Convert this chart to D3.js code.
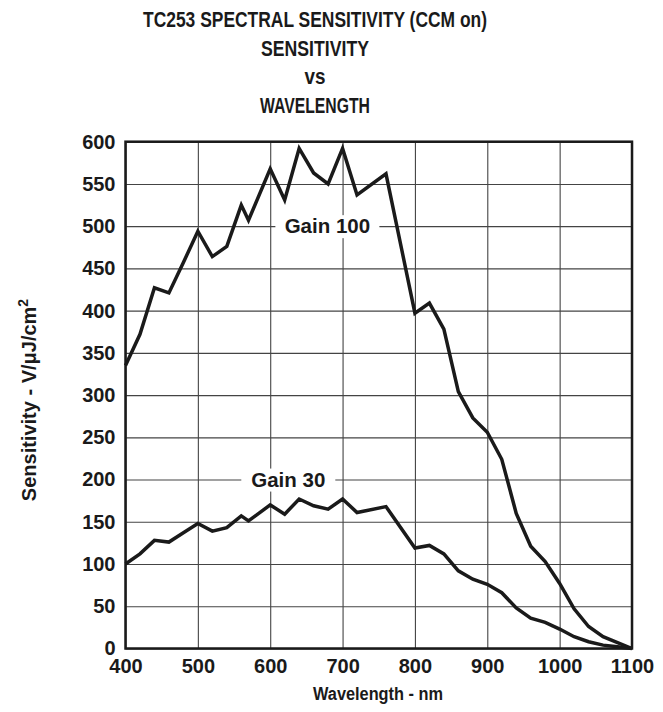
<!DOCTYPE html>
<html>
<head>
<meta charset="utf-8">
<script src="https://cdn.jsdelivr.net/npm/d3@7"></script>
<style>
  body { margin: 0; background: #fff; }
  text { font-family: "Liberation Sans", Arial, sans-serif; font-weight: bold; fill: #1a1a1a; }
</style>
</head>
<body>
<script>
// wavelength (nm) for each reading
var wavelengths = [400, 420, 440, 460, 480, 500, 520, 540, 560, 570, 600, 620, 640, 660, 680, 700, 720, 760,
  800, 820, 840, 860, 880, 900, 920, 940, 960, 980, 1000, 1020, 1040, 1060, 1080, 1100];
// sensitivity V/uJ/cm2
var gain100 = [335, 372, 427, 421, 457, 494, 464, 476, 525, 507, 568, 531, 592, 563, 550, 592, 537, 562,
  397, 409, 378, 304, 273, 256, 224, 160, 121, 103, 77, 47, 26, 14, 7, 0];
var gain30 = [100, 112, 128, 126, 137, 148, 139, 143, 157, 151, 170, 159, 177, 169, 165, 177, 161, 168,
  119, 122, 112, 92, 82, 76, 66, 48, 36, 31, 23, 14, 8, 4, 2, 0];
var xTicks = [400, 500, 600, 700, 800, 900, 1000, 1100];
var yTicks = [0, 50, 100, 150, 200, 250, 300, 350, 400, 450, 500, 550, 600];
var titleLines = ["TC253 SPECTRAL SENSITIVITY (CCM on)", "SENSITIVITY", "vs", "WAVELENGTH"];
var labels = [
  { name: "Gain 100", x: 679, y: 500 },
  { name: "Gain 30", x: 625, y: 200 }
];

const width = 663, height = 712;
const margin = { left: 125.5, right: 31, top: 141.7, bottom: 63.5 };
const innerWidth = width - margin.left - margin.right;
const innerHeight = height - margin.top - margin.bottom;

var svg = d3.select("body").append("svg")
  .attr("width", width)
  .attr("height", height);

svg.append("rect").attr("width", width).attr("height", height).attr("fill", "#fff");

// 标题（字形偏窄偏高）
var titleLen = [344, 108, 21, 110];
svg.selectAll(".title")
  .data(titleLines)
  .enter().append("text")
  .attr("class", "title")
  .attr("x", 315)
  .attr("y", (d, i) => [27, 56, 84, 113][i])
  .attr("text-anchor", "middle")
  .attr("textLength", (d, i) => titleLen[i])
  .attr("lengthAdjust", "spacingAndGlyphs")
  .style("font-size", "22px")
  .text(d => d);

const g = svg.append("g")
  .attr("transform", `translate(${margin.left},${margin.top})`);

var xScale = d3.scaleLinear().domain([400, 1100]).range([0, innerWidth]);
var yScale = d3.scaleLinear().domain([0, 600]).range([innerHeight, 0]);

// 网格线
g.append("g")
  .attr("class", "grid")
  .attr("transform", `translate(0,${innerHeight})`)
  .call(d3.axisBottom(xScale).tickValues(xTicks).tickSize(-innerHeight).tickFormat(""))
  .call(s => s.select(".domain").remove());
g.append("g")
  .attr("class", "grid")
  .call(d3.axisLeft(yScale).tickValues(yTicks).tickSize(-innerWidth).tickFormat(""))
  .call(s => s.select(".domain").remove());
g.selectAll(".grid line").attr("stroke", "#444").attr("stroke-width", 1.1);

// 刻度标签
var xAxisG = g.append("g")
  .attr("transform", `translate(0,${innerHeight})`)
  .call(d3.axisBottom(xScale).tickValues(xTicks).tickSize(0).tickPadding(10).tickFormat(d3.format("d")));
var yAxisG = g.append("g")
  .call(d3.axisLeft(yScale).tickValues(yTicks).tickSize(0).tickPadding(10).tickFormat(d3.format("d")));
xAxisG.select(".domain").remove();
yAxisG.select(".domain").remove();
g.selectAll(".tick text")
  .attr("font-family", null)
  .attr("font-size", null)
  .style("font-size", "20px")
  .attr("fill", "#1a1a1a");

// 曲线标签（白底）
var lab = g.selectAll(".curve-label")
  .data(labels)
  .enter().append("g")
  .attr("class", "curve-label")
  .attr("transform", d => `translate(${xScale(d.x)},${yScale(d.y)})`);
lab.append("rect")
  .attr("x", -52).attr("y", -11).attr("width", 104).attr("height", 23)
  .attr("fill", "#fff");
lab.append("text")
  .attr("text-anchor", "middle")
  .attr("y", 7)
  .style("font-size", "20.5px")
  .text(d => d.name);
lab.filter(d => d.name === "Gain 30").select("rect").attr("x", -47).attr("width", 94);

// 曲线
var line = d3.line()
  .x((d, i) => xScale(wavelengths[i]))
  .y(d => yScale(d));
[gain100, gain30].forEach(function (series) {
  g.append("path")
    .datum(series)
    .attr("d", line)
    .attr("fill", "none")
    .attr("stroke", "#1a1a1a")
    .attr("stroke-width", 3.5)
    .attr("stroke-linejoin", "miter");
});

// 外框
g.append("rect")
  .attr("width", innerWidth)
  .attr("height", innerHeight)
  .attr("fill", "none")
  .attr("stroke", "#1a1a1a")
  .attr("stroke-width", 2.5);

// 坐标轴标题
svg.append("text")
  .attr("x", 378)
  .attr("y", 700)
  .attr("text-anchor", "middle")
  .attr("textLength", 130)
  .attr("lengthAdjust", "spacingAndGlyphs")
  .style("font-size", "18px")
  .text("Wavelength - nm");

var yLabel = svg.append("text")
  .attr("transform", "translate(36,400) rotate(-90)")
  .attr("text-anchor", "middle")
  .style("font-size", "20px");
yLabel.append("tspan").text("Sensitivity - V/\u03bcJ/cm");
yLabel.append("tspan").attr("dy", -8).style("font-size", "14px").text("2");
</script>
</body>
</html>
